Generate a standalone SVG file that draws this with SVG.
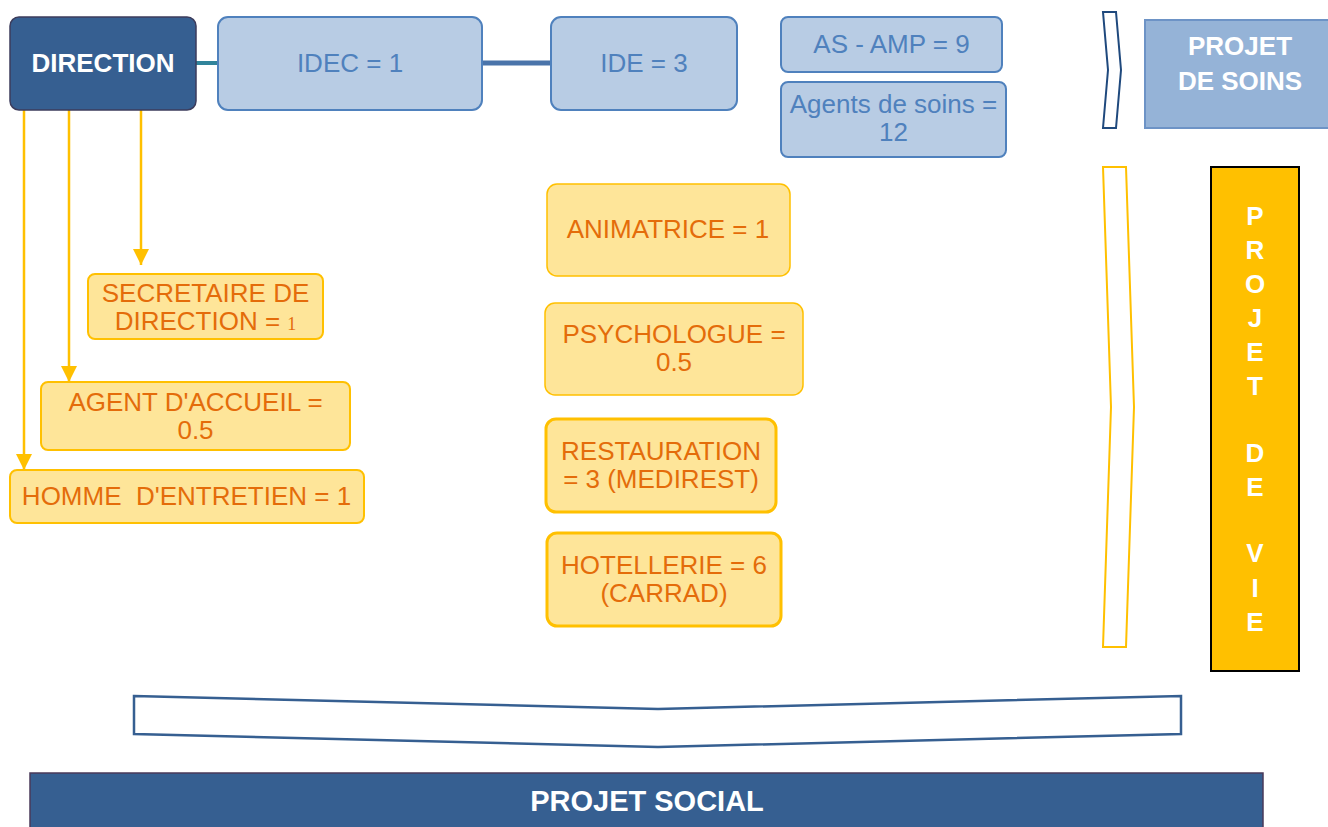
<svg xmlns="http://www.w3.org/2000/svg" width="1328" height="827" viewBox="0 0 1328 827">
<style>
text{font-family:"Liberation Sans",Arial,sans-serif;text-anchor:middle}
.blue rect{fill:#b8cce4;stroke:#4f81bd;stroke-width:2}
.blue text{fill:#4f81bd;font-size:26px}
.yel rect{fill:#fee599;stroke:#ffc000;stroke-width:2}
.yel text{fill:#e46c0a;font-size:26px}
.wb{fill:#fff;font-weight:bold;font-size:26px}
.ya{stroke:#ffc000;stroke-width:2.5;fill:none}
</style>
<defs>
<marker id="ah2" viewBox="0 0 16 16" refX="16" refY="8" markerWidth="16" markerHeight="16" orient="auto" markerUnits="userSpaceOnUse">
<path d="M0,0L16,8L0,16z" fill="#ffc000"/>
</marker>
</defs>
<rect width="1328" height="827" fill="#fff"/>
<g id="connectors">
<line x1="196" y1="63" x2="218" y2="63" stroke="#31849b" stroke-width="4"/>
<line x1="482" y1="63" x2="551" y2="63" stroke="#4a74aa" stroke-width="5"/>
<line class="ya" x1="141" y1="110" x2="141" y2="265" marker-end="url(#ah2)"/>
<line class="ya" x1="69" y1="110" x2="69" y2="382" marker-end="url(#ah2)"/>
<line class="ya" x1="24" y1="110" x2="24" y2="470" marker-end="url(#ah2)"/>
</g>
<g id="direction">
<rect x="10" y="17" width="186" height="93" rx="9" fill="#365f91" stroke="#3c3c5c" stroke-width="1.5"/>
<text class="wb" x="103" y="72">DIRECTION</text>
</g>
<g id="idec" class="blue">
<rect x="218" y="17" width="264" height="93" rx="10"/>
<text x="350" y="72">IDEC = 1</text>
</g>
<g id="ide" class="blue">
<rect x="551" y="17" width="186" height="93" rx="10"/>
<text x="644" y="72">IDE = 3</text>
</g>
<g id="asamp" class="blue">
<rect x="781" y="17" width="221" height="55" rx="7"/>
<text x="891.5" y="53">AS - AMP = 9</text>
</g>
<g id="agents" class="blue">
<rect x="781" y="82" width="225" height="75" rx="7"/>
<text x="893.5" y="113">Agents de soins =<tspan x="893.5" dy="28">12</tspan></text>
</g>
<g id="chevron-soins">
<path d="M1103,12L1116,12L1121,70L1116,128L1103,128L1108,70Z" fill="#fff" stroke="#1f497d" stroke-width="2"/>
</g>
<g id="projet-soins">
<rect x="1145" y="20" width="190" height="108" fill="#95b3d7" stroke="#6d93c6" stroke-width="2"/>
<text class="wb" x="1240" y="55">PROJET<tspan x="1240" dy="35">DE SOINS</tspan></text>
</g>
<g id="secretaire" class="yel">
<rect x="88" y="274" width="235" height="65" rx="7"/>
<text x="205.5" y="302">SECRETAIRE DE<tspan x="205.5" dy="28">DIRECTION = </tspan><tspan style="font-family:'Liberation Serif',serif;font-size:18px">1</tspan></text>
</g>
<g id="accueil" class="yel">
<rect x="41" y="382" width="309" height="68" rx="7"/>
<text x="195.5" y="411">AGENT D'ACCUEIL =<tspan x="195.5" dy="28">0.5</tspan></text>
</g>
<g id="entretien" class="yel">
<rect x="10" y="470" width="354" height="53" rx="7"/>
<text x="186.5" y="505" xml:space="preserve">HOMME  D'ENTRETIEN = 1</text>
</g>
<g id="animatrice" class="yel">
<rect x="547" y="184" width="243" height="92" rx="10" style="stroke-width:1.5"/>
<text x="668" y="238">ANIMATRICE = 1</text>
</g>
<g id="psychologue" class="yel">
<rect x="545" y="303" width="258" height="92" rx="10" style="stroke-width:1.5"/>
<text x="674" y="343">PSYCHOLOGUE =<tspan x="674" dy="28">0.5</tspan></text>
</g>
<g id="restauration" class="yel">
<rect x="546" y="419" width="230" height="93" rx="10" style="stroke-width:3"/>
<text x="661" y="460">RESTAURATION<tspan x="661" dy="28">= 3 (MEDIREST)</tspan></text>
</g>
<g id="hotellerie" class="yel">
<rect x="547" y="533" width="234" height="93" rx="10" style="stroke-width:3"/>
<text x="664" y="574">HOTELLERIE = 6<tspan x="664" dy="28">(CARRAD)</tspan></text>
</g>
<g id="chevron-vie">
<path d="M1103,167L1126,167L1134,407L1126,647L1103,647L1111,407Z" fill="#fff" stroke="#ffc000" stroke-width="2"/>
</g>
<g id="projet-vie">
<rect x="1211" y="167" width="88" height="504" fill="#ffc000" stroke="#000" stroke-width="2"/>
<text class="wb" x="1255" y="225">P<tspan x="1255" dy="34">R</tspan><tspan x="1255" dy="34">O</tspan><tspan x="1255" dy="34">J</tspan><tspan x="1255" dy="34">E</tspan><tspan x="1255" dy="34">T</tspan><tspan x="1255" dy="67">D</tspan><tspan x="1255" dy="34">E</tspan><tspan x="1255" dy="66">V</tspan><tspan x="1255" dy="35">I</tspan><tspan x="1255" dy="34">E</tspan></text>
</g>
<g id="chevron-social">
<path d="M134,696L658,709L1181,696L1181,734L658,747L134,734Z" fill="#fff" stroke="#365f91" stroke-width="2.5"/>
</g>
<g id="projet-social">
<rect x="30" y="773" width="1233" height="60" fill="#365f91" stroke="#4a3a5a" stroke-width="1.5"/>
<text class="wb" x="647" y="811" style="font-size:29px">PROJET SOCIAL</text>
</g>
</svg>
